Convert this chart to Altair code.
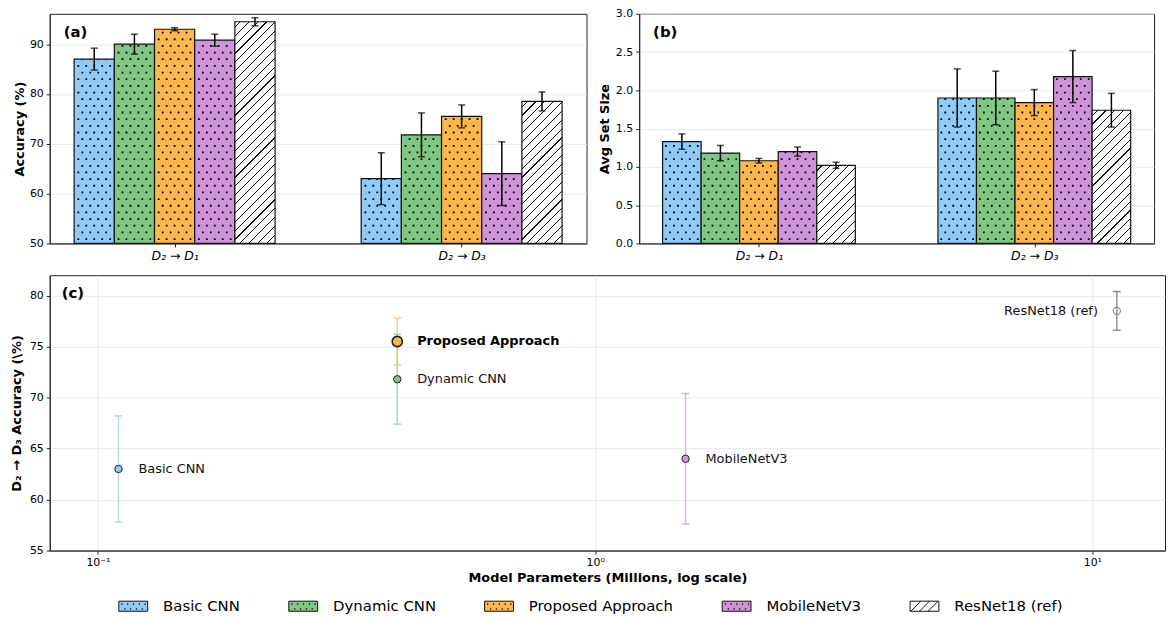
import json
import math
import altair as alt
import pandas as pd

# ---------------- data ----------------
models = ["Basic CNN", "Dynamic CNN", "Proposed Approach", "MobileNetV3", "ResNet18 (ref)"]
groups = ["D₂ → D₁", "D₂ → D₃"]

acc_d1 = [87.0, 90.0, 93.0, 90.8, 94.5]
acc_d1_err = [2.2, 2.0, 0.3, 1.2, 0.8]
acc_d3 = [63.0, 71.8, 75.5, 64.0, 78.5]
acc_d3_err = [5.2, 4.4, 2.3, 6.4, 1.9]

set_d1 = [1.33, 1.18, 1.08, 1.20, 1.02]
set_d1_err = [0.10, 0.10, 0.03, 0.06, 0.04]
set_d3 = [1.90, 1.90, 1.84, 2.18, 1.74]
set_d3_err = [0.38, 0.35, 0.17, 0.34, 0.22]

params_m = [0.11, 0.40, 0.40, 1.52, 11.2]

bar_colors = ["#90CAF9", "#81C784", "#FFB74D", "#CE93D8", "#FFFFFF"]
scatter_colors = ["#90CAF9", "#81C784", "#FFB74D", "#CE93D8", "#666666"]

# ---------------- tables ----------------
rows = []
for gi, (a, ae, s, se) in enumerate([(acc_d1, acc_d1_err, set_d1, set_d1_err),
                                      (acc_d3, acc_d3_err, set_d3, set_d3_err)]):
    for mi, m in enumerate(models):
        rows.append(dict(group=groups[gi], gi=gi, mi=mi, model=m,
                         acc=a[mi], acc_err=ae[mi], sz=s[mi], sz_err=se[mi]))
bar_df = pd.DataFrame(rows)

sc_df = pd.DataFrame(dict(model=models, mi=list(range(5)), params=params_m,
                          acc=acc_d3, err=acc_d3_err))

FONT = "DejaVu Sans"
BAR_W = 0.14
XDOM = [-0.435, 1.435]

W_A, W_B, H_TOP = 540, 518, 231
W_C, H_C = 1122, 277


def hatch_gradient(w, h, spacing=6.3, lw=0.8):
    """Diagonal '/' hatch as a linear gradient for a w x h pixel rectangle."""
    D = (w + h) / math.sqrt(2)
    k = (w + h) / (w * w + h * h)
    stops = [{"offset": 0, "color": "white"}]
    t = spacing * 0.6
    while t < D:
        a = max(0.0, (t - lw / 2) / D)
        b = min(1.0, (t + lw / 2) / D)
        stops += [{"offset": a, "color": "white"}, {"offset": a, "color": "#111"},
                  {"offset": b, "color": "#111"}, {"offset": b, "color": "white"}]
        t += spacing
    stops.append({"offset": 1, "color": "white"})
    return {"gradient": "linear", "x1": 0, "y1": 0, "x2": k * w, "y2": k * h, "stops": stops}


def bar_panel(field, err, vals, base, ydom, yvals, yfmt, ytitle, letter, W, title_pad):
    px_per_x = W / (XDOM[1] - XDOM[0])
    px_per_y = H_TOP / (ydom[1] - ydom[0])
    dxu = 8.0 / px_per_x

    xs = alt.Scale(domain=XDOM, nice=False, zero=False)
    xaxis = alt.Axis(values=[0, 1], labelExpr=f"{json.dumps(groups, ensure_ascii=False)}[datum.value]",
                     title=None, grid=False, labelFontStyle="italic", labelFontSize=12.5,
                     tickSize=3.5, labelPadding=3)
    ys = alt.Scale(domain=ydom, nice=False, zero=False)
    yaxis = alt.Axis(values=yvals, format=yfmt, title=ytitle, grid=True,
                     tickSize=3.5, labelPadding=3, titlePadding=title_pad)

    def X(f):
        return alt.X(f, type="quantitative", scale=xs, axis=xaxis)

    def Y(f):
        return alt.Y(f, type="quantitative", scale=ys, axis=yaxis)

    base_chart = alt.Chart(bar_df).transform_calculate(
        pos=f"datum.gi + (datum.mi - 2) * {BAR_W}",
        left=f"datum.gi + (datum.mi - 2) * {BAR_W} - {BAR_W / 2}",
        right=f"datum.gi + (datum.mi - 2) * {BAR_W} + {BAR_W / 2}",
        lo=f"datum.{field} - datum.{err}",
        hi=f"datum.{field} + datum.{err}",
        b=str(base),
    )

    layers = []
    layers.append(base_chart.transform_filter("datum.mi < 4").mark_bar(
        stroke="#111", strokeWidth=1.2).encode(
        x=X("left"), x2="right:Q", y=Y(field), y2="b:Q",
        color=alt.Color("model:N", scale=alt.Scale(domain=models, range=bar_colors), legend=None)))

    # dotted hatch: two staggered sets of dashed rules
    for cols, doff in [("[-2,-1,0,1,2]", -3.5), ("[-1.5,-0.5,0.5,1.5]", -3.5 - 6.7)]:
        layers.append(base_chart.transform_filter("datum.mi < 4")
                      .transform_calculate(col=cols).transform_flatten(["col"])
                      .transform_calculate(xd=f"datum.pos + datum.col * {dxu}")
                      .mark_rule(strokeDash=[1.8, 11.6], strokeDashOffset=doff, strokeWidth=1.8,
                                 color="black", strokeCap="butt")
                      .encode(x=X("xd"), y=Y("b"), y2=f"{field}:Q"))

    # ResNet bars with diagonal hatch
    for gi in range(2):
        h = (vals[gi][4] - base) * px_per_y
        w = BAR_W * px_per_x
        layers.append(base_chart.transform_filter(f"datum.mi == 4 && datum.gi == {gi}").mark_bar(
            fill=hatch_gradient(w, h), stroke="#111", strokeWidth=1.2).encode(
            x=X("left"), x2="right:Q", y=Y(field), y2="b:Q"))

    # error bars
    layers.append(base_chart.mark_rule(color="black", strokeWidth=1.5).encode(
        x=X("pos"), y=Y("lo"), y2="hi:Q"))
    for f in ["lo", "hi"]:
        layers.append(base_chart.mark_tick(orient="horizontal", size=7, thickness=1.5, color="black").encode(
            x=X("pos"), y=Y(f)))

    layers.append(alt.Chart(pd.DataFrame({"t": [letter]})).mark_text(
        align="left", baseline="middle", fontSize=15, fontWeight="bold", font=FONT, color="black").encode(
        x=alt.value(14), y=alt.value(18), text="t:N"))

    return alt.layer(*layers).properties(width=W, height=H_TOP)


panel_a = bar_panel("acc", "acc_err", [acc_d1, acc_d3], 50, [50, 96.1], [50, 60, 70, 80, 90], "d",
                    "Accuracy (%)", "(a)", W_A, 3)
panel_b = bar_panel("sz", "sz_err", [set_d1, set_d3], 0, [0, 3.0], [0, 0.5, 1, 1.5, 2, 2.5, 3], ".1f",
                    "Avg Set Size", "(b)", W_B, 4)

# ---------------- panel (c) ----------------
cx_axis = alt.Axis(values=[0.1, 1, 10],
                   labelExpr="datum.value < 0.5 ? '10⁻¹' : (datum.value < 5 ? '10⁰' : '10¹')",
                   title="Model Parameters (Millions, log scale)", grid=True, tickSize=3.5,
                   labelPadding=3, titlePadding=4)
cx_scale = alt.Scale(type="log", domain=[0.08, 14], nice=False)
cy_scale = alt.Scale(domain=[55, 82], nice=False, zero=False)
cy_axis = alt.Axis(values=[55, 60, 65, 70, 75, 80], title="D₂ → D₃ Accuracy (\\%)", grid=True,
                   tickSize=3.5, labelPadding=3, titlePadding=6)


def CX():
    return alt.X("params:Q", scale=cx_scale, axis=cx_axis)


def CY(f):
    return alt.Y(f, type="quantitative", scale=cy_scale, axis=cy_axis)


ccol = alt.Color("model:N", scale=alt.Scale(domain=models, range=scatter_colors), legend=None)
cbase = alt.Chart(sc_df).transform_calculate(lo="datum.acc - datum.err", hi="datum.acc + datum.err")

c_layers = [
    cbase.mark_rule(strokeWidth=1.5, opacity=0.7).encode(x=CX(), y=CY("lo"), y2="hi:Q", color=ccol),
    cbase.mark_tick(orient="horizontal", size=8, thickness=1.5, opacity=0.7).encode(x=CX(), y=CY("lo"), color=ccol),
    cbase.mark_tick(orient="horizontal", size=8, thickness=1.5, opacity=0.7).encode(x=CX(), y=CY("hi"), color=ccol),
    cbase.transform_filter("datum.mi == 0 || datum.mi == 1 || datum.mi == 3").mark_circle(
        size=55, stroke="#222", strokeWidth=1, opacity=1).encode(x=CX(), y=CY("acc"), color=ccol),
    cbase.transform_filter("datum.mi == 2").mark_circle(
        size=105, stroke="#222", strokeWidth=1.6, opacity=1).encode(x=CX(), y=CY("acc"), color=ccol),
    cbase.transform_filter("datum.mi == 4").mark_circle(
        size=55, fill="white", fillOpacity=0, stroke="#777", strokeWidth=1, opacity=1).encode(x=CX(), y=CY("acc")),
    cbase.transform_filter("datum.mi == 0 || datum.mi == 1 || datum.mi == 3").mark_text(
        align="left", baseline="middle", dx=20, fontSize=13, font=FONT, color="#111").encode(
        x=CX(), y=CY("acc"), text="model:N"),
    cbase.transform_filter("datum.mi == 2").mark_text(
        align="left", baseline="middle", dx=20, fontSize=13, fontWeight="bold", font=FONT, color="black").encode(
        x=CX(), y=CY("acc"), text="model:N"),
    cbase.transform_filter("datum.mi == 4").mark_text(
        align="right", baseline="middle", dx=-19, fontSize=13, font=FONT, color="#111").encode(
        x=CX(), y=CY("acc"), text="model:N"),
    alt.Chart(pd.DataFrame({"t": ["(c)"]})).mark_text(
        align="left", baseline="middle", fontSize=15, fontWeight="bold", font=FONT, color="black").encode(
        x=alt.value(12), y=alt.value(18), text="t:N"),
]

# legend symbols (rectangles with hatch drawn as path)
rect = "M-1,-0.35H1V0.35H-1Z"
dots = "".join(f"M{x:.2f},{y:.2f}h0.04v0.04h-0.04Z" for y, xs in
               [(-0.17, [-0.8, -0.4, 0.0, 0.4, 0.8]), (0.17, [-0.6, -0.2, 0.2, 0.6])] for x in xs)
diag = "".join(f"M{x:.2f},0.35L{x + 0.7:.2f},-0.35" for x in [-0.95, -0.35, 0.25])
sym_paths = [rect + dots] * 4 + [rect + diag]

leg_kw = dict(orient="none", legendX=69, legendY=581, direction="horizontal", columns=5, title=None,
              symbolSize=29 * 29, labelFontSize=15, labelFont=FONT, labelColor="black", labelOffset=15,
              columnPadding=46, symbolStrokeColor="black", symbolStrokeWidth=1, padding=0,
              labelLimit=300, symbolOpacity=1)

legend_layer = alt.Chart(pd.DataFrame({"model": models})).transform_filter("false").mark_point(
    filled=True, stroke="black", strokeWidth=1, opacity=1).encode(
    fill=alt.Fill("model:N", scale=alt.Scale(domain=models, range=bar_colors), legend=alt.Legend(**leg_kw)),
    shape=alt.Shape("model:N", scale=alt.Scale(domain=models, range=sym_paths), legend=alt.Legend(**leg_kw)),
    stroke=alt.Stroke("model:N", scale=alt.Scale(domain=models, range=["#111"] * 5), legend=alt.Legend(**leg_kw)),
)
c_layers.append(legend_layer)

panel_c = alt.layer(*c_layers).properties(width=W_C, height=H_C)

top = alt.hconcat(panel_a, panel_b, spacing=10)
chart = alt.vconcat(top, panel_c, spacing=11).resolve_scale(color="independent").properties(
    padding={"left": 2, "top": -3, "right": 0, "bottom": 0}
).configure(font=FONT).configure_view(stroke="#222", strokeWidth=1).configure_axis(
    labelFont=FONT, labelFontSize=11, labelColor="black", titleFont=FONT, titleFontSize=13,
    titleFontWeight="bold", titleColor="black", domainColor="#222", tickColor="#222",
    gridColor="#e6e6e6", gridWidth=0.8,
)

chart.save("out.html", embed_options={"renderer": "svg", "actions": False})
